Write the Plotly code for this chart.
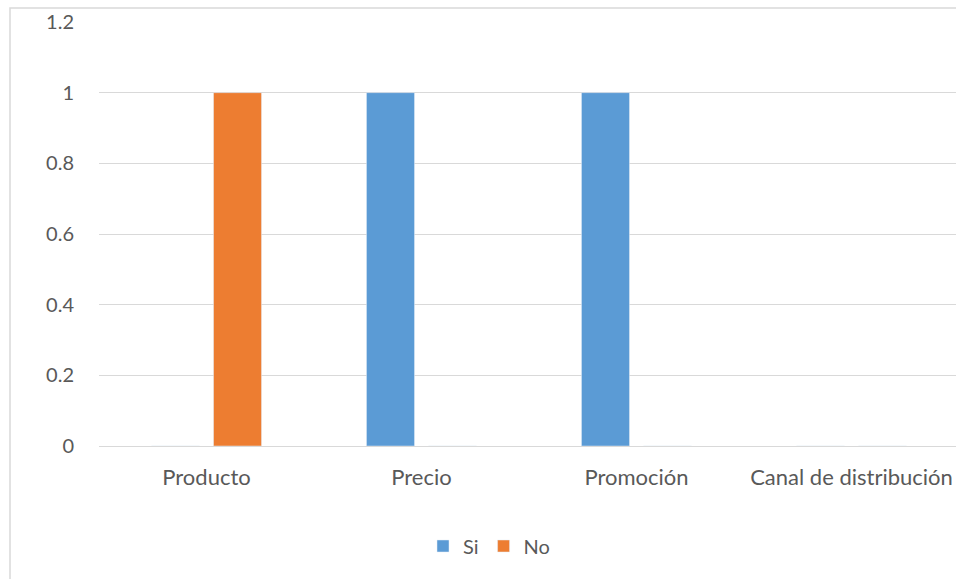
import plotly.graph_objects as go

# Categories and series values
categorias = ["Producto", "Precio", "Promoción", "Canal de distribución"]
valores_si = [0, 1, 1, 0]
valores_no = [1, 0, 0, 0]
y_ticks = [0, 0.2, 0.4, 0.6, 0.8, 1, 1.2]

W, H = 956, 579
ML, MR, MT, MB = 99, 0, 22, 133
plot_w = W - ML - MR
plot_h = H - MT - MB

fig = go.Figure()
fig.add_trace(go.Bar(name="Si", x=categorias, y=valores_si, marker_color="#5B9BD5"))
fig.add_trace(go.Bar(name="No", x=categorias, y=valores_no, marker_color="#ED7D31"))

font_x = dict(family="Lato, Open Sans, sans-serif", size=22, color="#595959")
font_y = dict(family="Lato, Open Sans, sans-serif", size=20, color="#595959")

# Outer chart border (extends past right/bottom edges)
bx0 = (10 - ML) / plot_w
by1 = (H - MB - 8) / plot_h
fig.add_shape(type="rect", xref="paper", yref="paper",
              x0=bx0, x1=1.2, y0=-1.0, y1=by1,
              line=dict(color="#D9D9D9", width=1.5), fillcolor="rgba(0,0,0,0)",
              layer="below")

cat_w = 215.0
x_end = -0.5 + plot_w / cat_w

fig.update_layout(
    width=W, height=H,
    margin=dict(l=ML, r=MR, t=MT, b=MB),
    paper_bgcolor="white", plot_bgcolor="white",
    barmode="group",
    bargap=0.423, bargroupgap=0.226,
    font=font_y,
    showlegend=True,
    legend=dict(orientation="h", x=(489 - ML) / plot_w, xanchor="center",
                y=(H - MB - 546) / plot_h, yanchor="middle",
                font=font_y, itemwidth=30, traceorder="normal"),
    xaxis=dict(range=[-0.5, x_end], showgrid=False, showline=False, zeroline=False,
               ticks="", tickfont=font_x, ticklabelstandoff=16),
    yaxis=dict(range=[0, 1.2], tickvals=y_ticks, ticktext=[f"{v:g}" for v in y_ticks],
               showgrid=True, gridcolor="#D9D9D9", gridwidth=1.3,
               zeroline=True, zerolinecolor="#D9D9D9", zerolinewidth=1.3,
               showline=False, ticks="", tickfont=font_y, ticklabelstandoff=24),
)

fig.write_html("out.html")
